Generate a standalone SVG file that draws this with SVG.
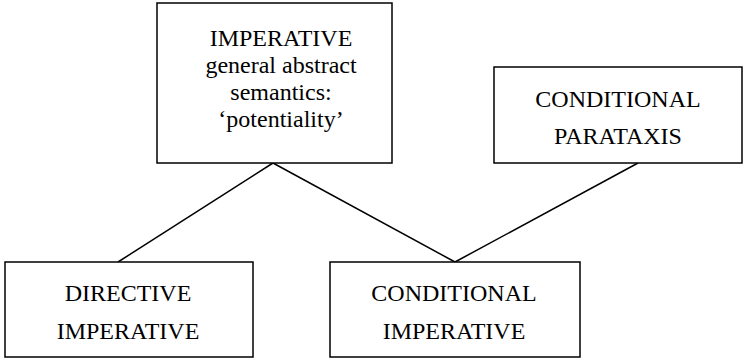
<svg xmlns="http://www.w3.org/2000/svg" width="744" height="358" viewBox="0 0 744 358">
<style>
.box{fill:#fff;stroke:#000;stroke-width:1.5}
.t{font-size:24px;fill:#000;text-anchor:middle}
.c{stroke:#000;stroke-width:1.5;fill:none}
</style>
<rect width="744" height="358" fill="#fff"/>
<g id="connectors">
<line class="c" x1="273" y1="163" x2="118" y2="262"/>
<line class="c" x1="273" y1="163" x2="455" y2="262"/>
<line class="c" x1="638" y1="163" x2="455" y2="262"/>
</g>
<g font-family="Liberation Serif, DejaVu Serif, serif">
<g id="imperative">
<rect class="box" x="157" y="3" width="235" height="160"/>
<text class="t" x="281" y="46">IMPERATIVE</text>
<text class="t" x="281" y="73">general abstract</text>
<text class="t" x="281" y="100">semantics:</text>
<text class="t" x="281" y="127">‘potentiality’</text>
</g>
<g id="conditional-parataxis">
<rect class="box" x="494" y="67" width="248" height="96"/>
<text class="t" x="618" y="107">CONDITIONAL</text>
<text class="t" x="618" y="144">PARATAXIS</text>
</g>
<g id="directive-imperative">
<rect class="box" x="5" y="262" width="248" height="95"/>
<text class="t" x="128" y="301">DIRECTIVE</text>
<text class="t" x="128" y="339">IMPERATIVE</text>
</g>
<g id="conditional-imperative">
<rect class="box" x="330" y="262" width="250" height="95"/>
<text class="t" x="454" y="301">CONDITIONAL</text>
<text class="t" x="454" y="339">IMPERATIVE</text>
</g>
</g>
</svg>
